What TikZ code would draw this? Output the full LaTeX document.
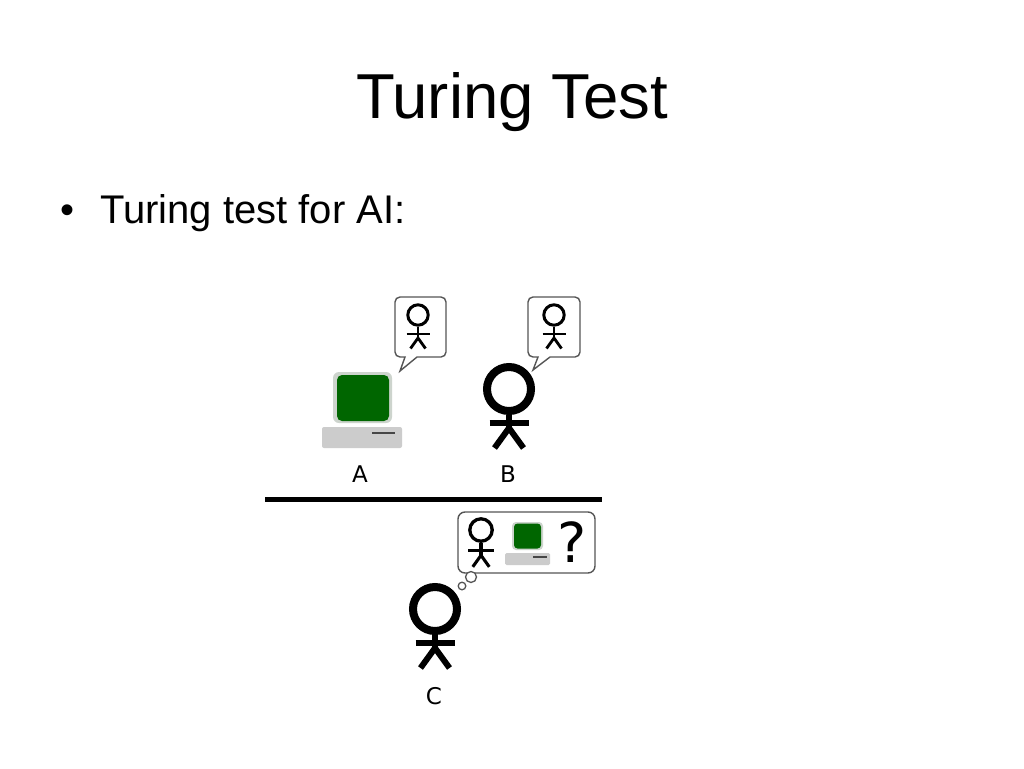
\documentclass[tikz,border=0pt]{standalone}
\usepackage{fontspec}
\setmainfont{Liberation Sans}
\newfontfamily\labelfont{DejaVu Sans}
\definecolor{scrgreen}{RGB}{0,102,0}
\definecolor{scrrim}{RGB}{205,212,205}
\definecolor{basegray}{RGB}{204,204,204}
\definecolor{dashgray}{RGB}{70,70,70}
\definecolor{bubblerim}{RGB}{85,85,85}
\tikzset{
  bubble/.style={draw=bubblerim, line width=1.4pt, fill=white},
  limb/.style={line width=#1, line cap=butt, line join=miter},
  lbl/.style={font=\labelfont\fontsize{23}{23}\selectfont, inner sep=0pt, anchor=base},
}
\newcommand\BigFig[2]{%
  \begin{scope}[shift={(#1,#2)}]
    \draw[line width=8pt] (0,0) circle[radius=22];
    \draw[limb=6pt] (0,26) -- (0,40);
    \draw[limb=6pt] (-19.5,34) -- (19.5,34);
    \draw[limb=6pt] (-14.5,59) -- (0,39) -- (14.5,59);
  \end{scope}}
\newcommand\SmallFig[3]{%
  \begin{scope}[shift={(#1,#2)}, scale=#3]
    \draw[line width=#3*3pt] (0,0) circle[radius=10.2];
    \draw[limb=#3*2.8pt] (0,11.5) -- (0,24);
    \draw[limb=#3*2.8pt] (-11.5,19) -- (11.5,19);
    \draw[limb=#3*2.8pt] (-7.5,33.5) -- (0,23) -- (7.5,33.5);
  \end{scope}}
\begin{document}
\begin{tikzpicture}[x=1pt, y=-1pt]
\useasboundingbox (0,0) rectangle (1024,768);
\fill[white] (0,0) rectangle (1024,768);
% title and bullet
\node[inner sep=0pt, anchor=base, font=\fontsize{63.5}{64}\selectfont] (title) at (512,118) {Turing Test};
\node[inner sep=0pt, anchor=base, font=\fontsize{40}{40}\selectfont] (dot) at (68,223) {•};
\node[inner sep=0pt, anchor=base west, font=\fontsize{40}{40}\selectfont] (item) at (100,223) {Turing test for AI:};
% computer A
\fill[scrrim] (333,372) [rounded corners=6pt] rectangle (392,423);
\fill[scrgreen] (337,375) [rounded corners=5pt] rectangle (389,421);
\fill[basegray] (322,427) [rounded corners=2pt] rectangle (402,448);
\draw[dashgray, line width=2.6pt] (372,433) -- (395,433);
% speech bubble A
\draw[bubble] (417,357) [rounded corners=5pt] -- (446,357) -- (446,297) -- (395,297) -- (395,357) [sharp corners] -- (405,357) -- (400,371) -- cycle;
\SmallFig{418}{315}{1}
% person B
\BigFig{509}{389}
\draw[bubble] (550,357) [rounded corners=5pt] -- (580,357) -- (580,297) -- (528,297) -- (528,357) [sharp corners] -- (538,357) -- (533,370) -- cycle;
\SmallFig{554}{315}{1}
% labels
\node[lbl] (A) at (360,482) {A};
\node[lbl] (B) at (508,482) {B};
% divider
\draw[line width=5pt] (265,499) -- (602,499);
% person C
\BigFig{435}{609}
\node[lbl] (C) at (434,704) {C};
% thought bubble
\draw[bubble] (458,512) [rounded corners=7pt] rectangle (595,573);
\draw[bubble, line width=1.3pt] (471,577) circle[radius=5.5];
\draw[bubble, line width=1.3pt] (462,586) circle[radius=3.8];
\SmallFig{481}{530}{1.1}
\fill[scrrim] (512,522) [rounded corners=4pt] rectangle (543,550);
\fill[scrgreen] (514,523.5) [rounded corners=3.5pt] rectangle (541,548.5);
\fill[basegray] (505,553) [rounded corners=1.5pt] rectangle (550,565);
\draw[dashgray, line width=2pt] (533,557) -- (547,557);
\node[inner sep=0pt, anchor=base, font=\labelfont\fontsize{55}{55}\selectfont] (q) at (572.5,562) {?};
\end{tikzpicture}
\end{document}
